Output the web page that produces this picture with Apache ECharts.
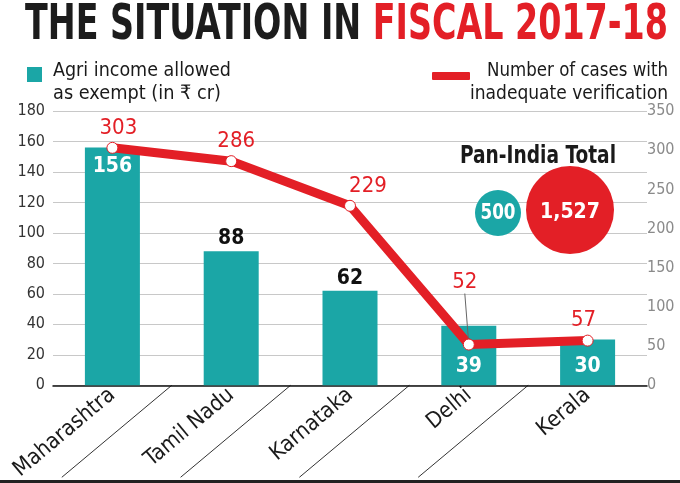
<!DOCTYPE html>
<html>
<head>
<meta charset="utf-8">
<script src="https://cdn.jsdelivr.net/npm/echarts@6/dist/echarts.min.js"></script>
<style>
html,body{margin:0;padding:0;background:#fff;}
#c{width:680px;height:483px;}
</style>
</head>
<body>
<div id="c"></div>
<script>
const categories = ['Maharashtra', 'Tamil Nadu', 'Karnataka', 'Delhi', 'Kerala'];
const agriIncome = [156, 88, 62, 39, 30];
const cases = [303, 286, 229, 52, 57];
const leftTicks = {min: 0, max: 180, interval: 20};
const rightTicks = {min: 0, max: 350, interval: 50};
const panIndiaIncome = '500';
const panIndiaCases = '1,527';

const TEAL = '#1ba6a6';
const RED = '#e31f26';
const FONT = '"DejaVu Sans Condensed","DejaVu Sans",sans-serif';

const chart = echarts.init(document.getElementById('c'), null, {renderer: 'canvas'});

const barLabelPos = ['insideTop', 'top', 'top', 'insideBottom', 'insideBottom'];
const barData = agriIncome.map((v, i) => {
  const inside = barLabelPos[i] !== 'top';
  return {
    value: v,
    label: {
      position: barLabelPos[i],
      color: inside ? '#fff' : '#111',
      distance: inside ? 8 : 2
    }
  };
});

const lineOffsets = [[6, 0], [5, 0], [18, 0], [-4, -42], [-4, 0]];
const lineData = cases.map((v, i) => {
  const d = {value: v, label: {offset: lineOffsets[i]}};
  if (i === 3) d.labelLine = {show: true};
  return d;
});

const option = {
  animation: false,
  backgroundColor: '#fff',
  grid: {left: 53, right: 33, top: 111, bottom: 96, containLabel: false},
  xAxis: {
    type: 'category',
    data: categories,
    axisLine: {show: true, lineStyle: {color: '#111', width: 1.5}},
    axisTick: {show: false},
    axisLabel: {
      rotate: 40,
      fontFamily: FONT,
      fontSize: 22,
      color: '#1a1a1a',
      margin: 7,
      interval: 0
    }
  },
  yAxis: [
    {
      type: 'value',
      min: leftTicks.min, max: leftTicks.max, interval: leftTicks.interval,
      axisLine: {show: false},
      axisTick: {show: false},
      splitLine: {show: true, lineStyle: {color: '#c8c8c8', width: 1.2}},
      axisLabel: {fontFamily: FONT, fontSize: 16, color: '#333', margin: 8}
    },
    {
      type: 'value',
      min: rightTicks.min, max: rightTicks.max, interval: rightTicks.interval,
      position: 'right',
      axisLine: {show: false},
      axisTick: {show: false},
      splitLine: {show: false},
      axisLabel: {fontFamily: FONT, fontSize: 16, color: '#8a8a8a', margin: 0}
    }
  ],
  series: [
    {
      type: 'bar',
      yAxisIndex: 0,
      data: barData,
      barWidth: 55,
      itemStyle: {color: TEAL},
      label: {show: true, fontFamily: FONT, fontWeight: 'bold', fontSize: 21},
      z: 2
    },
    {
      type: 'line',
      yAxisIndex: 1,
      data: lineData,
      lineStyle: {color: RED, width: 9},
      symbol: 'circle',
      symbolSize: 11,
      itemStyle: {color: '#fff', borderColor: RED, borderWidth: 1},
      label: {show: true, position: 'top', distance: 3, fontFamily: FONT, fontSize: 22, color: RED},
      labelLine: {show: false, lineStyle: {color: '#666', width: 1}},
      z: 5
    }
  ]
};

chart.setOption(option);

const measureCtx = document.createElement('canvas').getContext('2d');
function measure(text, size, weight) {
  measureCtx.font = (weight || 'normal') + ' ' + size + 'px ' + FONT;
  return measureCtx.measureText(text).width;
}
// text fitted to a target width by horizontal scaling
function fitText(text, x, y, width, size, weight, fill, align, z) {
  const w = measure(text, size, weight);
  return {
    type: 'text', x: x, y: y, scaleX: width / w, z: z || 10,
    style: {
      text: text, fontFamily: FONT, fontSize: size, fontWeight: weight || 'normal',
      fill: fill, align: align || 'left', verticalAlign: 'middle'
    }
  };
}

function buildGraphics() {
  const g = [];
  // Title (two colours), fitted
  const t1 = 'THE SITUATION IN ';
  const t2 = 'FISCAL 2017-18';
  const ts = 50;
  const w1 = measure(t1, ts, 'bold');
  const w2 = measure(t2, ts, 'bold');
  const sx = (668 - 25) / (w1 + w2);
  g.push({
    type: 'text', x: 25, y: 26, scaleX: sx,
    style: {
      rich: {
        a: {fontFamily: FONT, fontWeight: 'bold', fontSize: ts, fill: '#1c1c1c'},
        b: {fontFamily: FONT, fontWeight: 'bold', fontSize: ts, fill: RED}
      },
      text: '{a|' + t1 + '}{b|' + t2 + '}',
      verticalAlign: 'middle'
    }
  });
  // Legend: bar
  g.push({type: 'rect', shape: {x: 27, y: 67, width: 15, height: 15}, style: {fill: TEAL}});
  g.push(fitText('Agri income allowed', 53, 71, 178, 20, 'normal', '#1a1a1a', 'left'));
  g.push(fitText('as exempt (in ₹ cr)', 53, 94, 168, 20, 'normal', '#1a1a1a', 'left'));
  // Legend: line
  g.push({type: 'rect', shape: {x: 432, y: 72, width: 38, height: 8, r: 1}, style: {fill: RED}});
  g.push(fitText('Number of cases with', 668, 71, 181, 20, 'normal', '#1a1a1a', 'right'));
  g.push(fitText('inadequate verification', 668, 94, 198, 20, 'normal', '#1a1a1a', 'right'));
  // Pan-India total
  g.push(fitText('Pan-India Total', 460, 156, 156, 25, 'bold', '#1a1a1a', 'left'));
  g.push({type: 'circle', shape: {cx: 498, cy: 213, r: 23}, style: {fill: TEAL}, z: 10});
  g.push({type: 'circle', shape: {cx: 570, cy: 210, r: 44}, style: {fill: RED}, z: 10});
  g.push(fitText(panIndiaIncome, 498, 214, 35, 21, 'bold', '#fff', 'center', 11));
  g.push(fitText(panIndiaCases, 570, 212, 60, 22, 'bold', '#fff', 'center', 11));
  // Category separator diagonals
  for (let i = 0; i < categories.length - 1; i++) {
    const p0 = chart.convertToPixel({xAxisIndex: 0, yAxisIndex: 0}, [i, 0]);
    const p1 = chart.convertToPixel({xAxisIndex: 0, yAxisIndex: 0}, [i + 1, 0]);
    const bx = (p0[0] + p1[0]) / 2;
    const by = p0[1];
    g.push({
      type: 'line',
      shape: {x1: bx, y1: by, x2: bx - 110, y2: by + 92},
      style: {stroke: '#333', lineWidth: 1}
    });
  }
  // Bottom border
  g.push({type: 'rect', shape: {x: 0, y: 480, width: 680, height: 3}, style: {fill: '#222'}});
  return g;
}

chart.setOption({graphic: buildGraphics()});
</script>
</body>
</html>
